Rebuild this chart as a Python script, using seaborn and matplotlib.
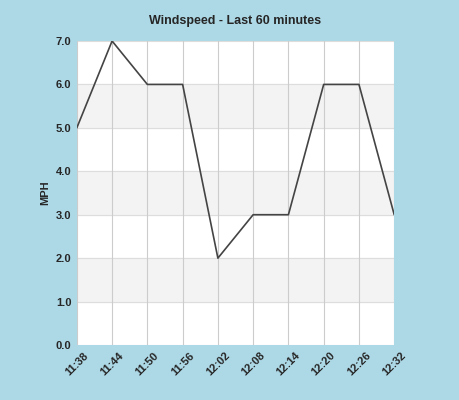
import matplotlib
matplotlib.use("Agg")
from matplotlib import pyplot as plt
import seaborn as sns

times = ["11:38", "11:44", "11:50", "11:56", "12:02", "12:08", "12:14", "12:20", "12:26", "12:32"]
speeds = [5, 7, 6, 6, 2, 3, 3, 6, 6, 3]

sns.set_style("white")
plt.rcParams['font.family'] = ['Liberation Sans', 'DejaVu Sans']

fig = plt.figure(figsize=(4.6, 4.0), dpi=100, facecolor="#add8e6")
ax = fig.add_axes([0.167, 0.1375, 0.69, 0.76])
ax.set_facecolor("white")

# shaded bands
for lo in [1, 3, 5]:
    ax.axhspan(lo, lo + 1, color="#f3f3f3", zorder=0)
for y in range(8):
    ax.axhline(y, color="#dddddd", lw=0.8, zorder=0.5)

xs = list(range(len(times)))
for x in xs:
    ax.axvline(x, color="#cccccc", lw=0.8, zorder=0.5)

sns.lineplot(x=xs, y=speeds, ax=ax, color="#444444", lw=1.2, zorder=3)

ax.set_xlim(0, len(times) - 1)
ax.set_ylim(0, 7)
ax.set_xticks(xs)
ax.set_xticklabels(times, rotation=45, fontsize=8, fontweight="bold")
ax.set_yticks(range(8))
ax.set_yticklabels([f"{v:.1f}" for v in range(8)], fontsize=8, fontweight="bold")
ax.set_ylabel("MPH", fontsize=8, fontweight="bold")
ax.set_title("Windspeed - Last 60 minutes", fontsize=9, fontweight="bold", pad=12)
for s in ax.spines.values():
    s.set_visible(False)
ax.tick_params(length=0, pad=4)

fig.savefig("out.png", dpi=100, facecolor=fig.get_facecolor())
